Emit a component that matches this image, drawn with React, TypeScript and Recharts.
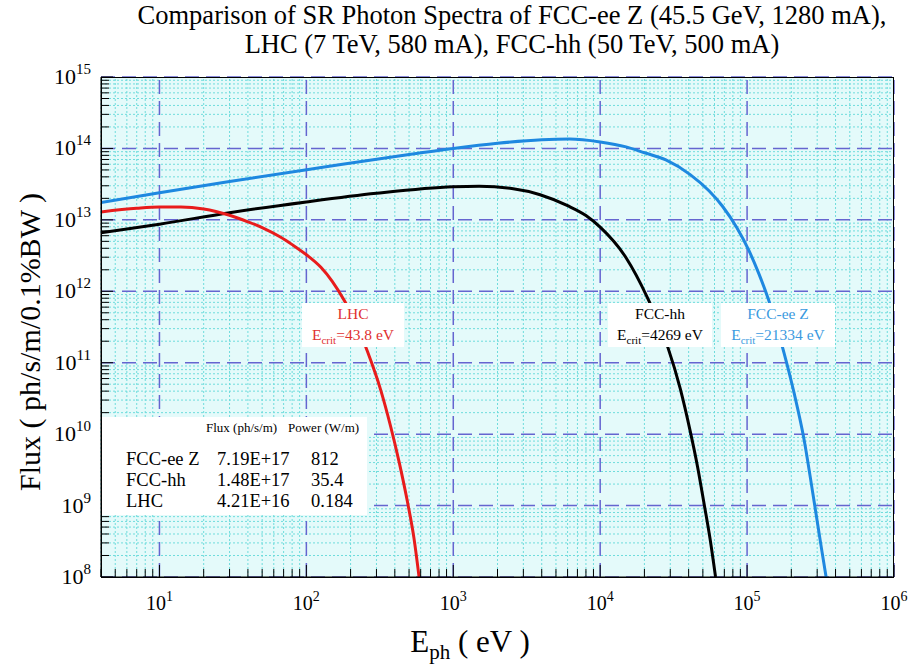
import { LineChart, Line, XAxis, YAxis, ReferenceLine, ReferenceArea } from "recharts";

// photon energy (eV) vs flux (ph/s/m/0.1%BW)
const lhc = [
  { e: 4, f: 1.29e13 },
  { e: 7, f: 1.45e13 },
  { e: 10, f: 1.51e13 },
  { e: 14, f: 1.51e13 },
  { e: 20, f: 1.42e13 },
  { e: 30, f: 1.16e13 },
  { e: 40, f: 9.4e12 },
  { e: 50, f: 7.8e12 },
  { e: 67, f: 5.7e12 },
  { e: 80, f: 4.5e12 },
  { e: 100, f: 3.25e12 },
  { e: 126, f: 2.15e12 },
  { e: 150, f: 1.38e12 },
  { e: 180, f: 7.6e11 },
  { e: 220, f: 3.4e11 },
  { e: 261, f: 1.42e11 },
  { e: 320, f: 4.2e10 },
  { e: 374, f: 1.3e10 },
  { e: 430, f: 3.9e9 },
  { e: 488, f: 1.12e9 },
  { e: 540, f: 3.5e8 },
  { e: 585, f: 1e8 },
];

const fccHh = [
  { e: 4, f: 6.6e12 },
  { e: 10, f: 8.7e12 },
  { e: 30, f: 1.26e13 },
  { e: 100, f: 1.78e13 },
  { e: 300, f: 2.35e13 },
  { e: 1000, f: 2.9e13 },
  { e: 1500, f: 2.95e13 },
  { e: 2500, f: 2.75e13 },
  { e: 3900, f: 2.25e13 },
  { e: 6000, f: 1.58e13 },
  { e: 8000, f: 1.15e13 },
  { e: 10000, f: 7.9e12 },
  { e: 15000, f: 2.95e12 },
  { e: 21000, f: 8.1e11 },
  { e: 25000, f: 3.6e11 },
  { e: 29000, f: 1.6e11 },
  { e: 35000, f: 4.4e10 },
  { e: 41000, f: 1.1e10 },
  { e: 46000, f: 3.5e9 },
  { e: 51000, f: 1.05e9 },
  { e: 56000, f: 3.4e8 },
  { e: 61000, f: 1e8 },
];

const fccEeZ = [
  { e: 4, f: 1.75e13 },
  { e: 10, f: 2.4e13 },
  { e: 30, f: 3.45e13 },
  { e: 126, f: 5.4e13 },
  { e: 437, f: 7.9e13 },
  { e: 1000, f: 1.0e14 },
  { e: 2000, f: 1.18e14 },
  { e: 4000, f: 1.32e14 },
  { e: 6200, f: 1.35e14 },
  { e: 10000, f: 1.23e14 },
  { e: 15000, f: 1.05e14 },
  { e: 20000, f: 8.7e13 },
  { e: 28000, f: 6.9e13 },
  { e: 41000, f: 4.3e13 },
  { e: 55000, f: 2.55e13 },
  { e: 68000, f: 1.55e13 },
  { e: 85000, f: 7.8e12 },
  { e: 103000, f: 3.7e12 },
  { e: 120000, f: 1.78e12 },
  { e: 140000, f: 7.6e11 },
  { e: 178000, f: 1.4e11 },
  { e: 210000, f: 3.6e10 },
  { e: 244000, f: 8.5e9 },
  { e: 280000, f: 1.5e9 },
  { e: 320000, f: 2.6e8 },
  { e: 345000, f: 1e8 },
];

const xMajor = [10, 100, 1e3, 1e4, 1e5, 1e6];
const yMajor = [1e8, 1e9, 1e10, 1e11, 1e12, 1e13, 1e14, 1e15];
const xDecades = [1, 10, 100, 1e3, 1e4, 1e5];
const yDecades = [1e8, 1e9, 1e10, 1e11, 1e12, 1e13, 1e14];
const minorSteps = [2, 3, 4, 5, 6, 7, 8, 9];

const tableRows = [
  { name: "FCC-ee Z", flux: "7.19E+17", power: "812" },
  { name: "FCC-hh", flux: "1.48E+17", power: "35.4" },
  { name: "LHC", flux: "4.21E+16", power: "0.184" },
];

const xMinor = xDecades.flatMap((d) => minorSteps.map((m) => m * d)).filter((v) => v >= 4);
const yMinor = yDecades.flatMap((d) => minorSteps.map((m) => m * d));

const serif = '"Liberation Serif", "Times New Roman", serif';

function isMajor(v: number) {
  const l = Math.log10(v);
  return Math.abs(l - Math.round(l)) < 1e-6;
}

function XTick({ x, y, payload }: any) {
  const v = payload.value;
  const major = isMajor(v);
  return (
    <g>
      <line x1={x} x2={x} y1={y} y2={y - (major ? 12 : 8)} stroke="#000" />
      {major && (
        <text x={x} y={y + 33} textAnchor="middle" fontFamily={serif} fontSize={20} fill="#000">
          <tspan>10</tspan>
          <tspan dy={-9} fontSize={14}>{Math.round(Math.log10(v))}</tspan>
        </text>
      )}
    </g>
  );
}

function YTick({ x, y, payload }: any) {
  const v = payload.value;
  const major = isMajor(v);
  return (
    <g>
      <line x1={x} x2={x + (major ? 12 : 8)} y1={y} y2={y} stroke="#000" />
      {major && (
        <text x={x - 10} y={y + 7} textAnchor="end" fontFamily={serif} fontSize={22} fill="#000">
          <tspan>10</tspan>
          <tspan dy={-10} fontSize={15}>{Math.round(Math.log10(v))}</tspan>
        </text>
      )}
    </g>
  );
}

const boxStyle: React.CSSProperties = {
  position: "absolute",
  background: "#fff",
  fontFamily: serif,
  fontSize: 15.5,
  textAlign: "center",
  lineHeight: "21px",
  whiteSpace: "nowrap",
};

export default function App() {
  return (
    <div style={{ position: "absolute", left: 0, top: 0, width: 912, height: 666, background: "#fff", fontFamily: serif }}>
      <div style={{ position: "absolute", left: 0, width: 1024, top: 1, textAlign: "center", fontSize: 26.5, lineHeight: "29px", whiteSpace: "nowrap" }}>
        Comparison of SR Photon Spectra of FCC-ee Z (45.5 GeV, 1280 mA),
        <br />
        LHC (7 TeV, 580 mA), FCC-hh (50 TeV, 500 mA)
      </div>
      <LineChart width={912} height={666} margin={{ top: 77, right: 18, bottom: 59, left: 41 }}>
        <XAxis
          dataKey="e"
          type="number"
          scale="log"
          domain={[4, 1e6]}
          allowDataOverflow
          ticks={[...xMinor, ...xMajor]}
          interval={0}
          tick={<XTick />}
          tickLine={false}
          tickSize={0}
          tickMargin={0}
          height={30}
          axisLine={{ stroke: "#000" }}
        />
        <YAxis
          type="number"
          scale="log"
          domain={[1e8, 1e15]}
          allowDataOverflow
          ticks={[...yMinor, ...yMajor]}
          interval={0}
          tick={<YTick />}
          tickLine={false}
          tickSize={0}
          tickMargin={0}
          width={60}
          axisLine={{ stroke: "#000" }}
        />
        <ReferenceArea x1={4} x2={1e6} y1={1e8} y2={1e15} fill="#e4fafa" fillOpacity={1} stroke="none" />
        {xMinor.map((v) => (
          <ReferenceLine key={"xm" + v} x={v} stroke="#6fdcdc" strokeDasharray="2 2" />
        ))}
        {yMinor.map((v) => (
          <ReferenceLine key={"ym" + v} y={v} stroke="#6fdcdc" strokeDasharray="2 2" />
        ))}
        {xMajor.map((v) => (
          <ReferenceLine key={"xM" + v} x={v} stroke="#6565d0" strokeWidth={1.5} strokeDasharray="14 7" />
        ))}
        {yMajor.map((v) => (
          <ReferenceLine key={"yM" + v} y={v} stroke="#6565d0" strokeWidth={1.5} strokeDasharray="14 7" />
        ))}
        <Line data={fccEeZ} dataKey="f" type="monotone" stroke="#1e88e0" strokeWidth={3} dot={false} isAnimationActive={false} />
        <Line data={fccHh} dataKey="f" type="monotone" stroke="#000" strokeWidth={3} dot={false} isAnimationActive={false} />
        <Line data={lhc} dataKey="f" type="monotone" stroke="#e81c1c" strokeWidth={3} dot={false} isAnimationActive={false} />
      </LineChart>

      {/* plot frame */}
      <div style={{ position: "absolute", left: 101, top: 77, width: 793, height: 501, border: "1px solid #000", boxSizing: "border-box", pointerEvents: "none" }} />

      <div style={{ ...boxStyle, left: 302, top: 303, width: 102, height: 44, color: "#e03030" }}>
        LHC
        <br />
        E<sub style={{ fontSize: 11 }}>crit</sub>=43.8 eV
      </div>
      <div style={{ ...boxStyle, left: 608, top: 303, width: 104, height: 44, color: "#000" }}>
        FCC-hh
        <br />
        E<sub style={{ fontSize: 11 }}>crit</sub>=4269 eV
      </div>
      <div style={{ ...boxStyle, left: 721, top: 303, width: 114, height: 44, color: "#3a9ae0" }}>
        FCC-ee Z
        <br />
        E<sub style={{ fontSize: 11 }}>crit</sub>=21334 eV
      </div>

      <div style={{ position: "absolute", left: 102, top: 417, width: 265, height: 98, background: "#fff" }}>
        <div style={{ position: "absolute", left: 104, top: 3, fontSize: 13, whiteSpace: "nowrap" }}>Flux (ph/s/m)</div>
        <div style={{ position: "absolute", left: 186, top: 3, fontSize: 13, whiteSpace: "nowrap" }}>Power (W/m)</div>
        {tableRows.map((r, i) => (
          <div key={r.name} style={{ position: "absolute", top: 31 + i * 21, left: 0, fontSize: 18.5, lineHeight: "22px", whiteSpace: "nowrap" }}>
            <span style={{ position: "absolute", left: 24 }}>{r.name}</span>
            <span style={{ position: "absolute", left: 115 }}>{r.flux}</span>
            <span style={{ position: "absolute", left: 209 }}>{r.power}</span>
          </div>
        ))}
      </div>

      <div
        style={{
          position: "absolute",
          left: 30,
          top: 342,
          transform: "translate(-50%, -50%) rotate(-90deg)",
          fontSize: 30,
          whiteSpace: "nowrap",
        }}
      >
        Flux ( ph/s/m/0.1%BW )
      </div>
      <div style={{ position: "absolute", left: 0, width: 940, top: 624, textAlign: "center", fontSize: 31, whiteSpace: "nowrap" }}>
        E<sub style={{ fontSize: 21 }}>ph</sub> ( eV )
      </div>
    </div>
  );
}
